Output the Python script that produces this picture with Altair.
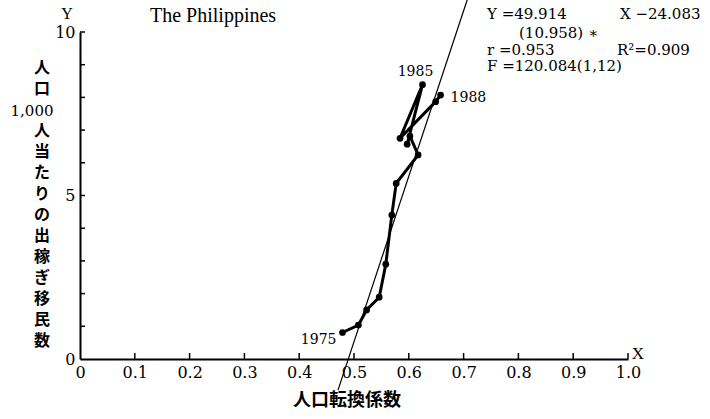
import altair as alt
import pandas as pd

# ---- data ----
years = [1975, 1976, 1977, 1978, 1979, 1980, 1981, 1982, 1983, 1984, 1985, 1986, 1987, 1988]
conv = [0.479, 0.508, 0.523, 0.546, 0.558, 0.569, 0.577, 0.617, 0.602, 0.597, 0.625, 0.584, 0.649, 0.658]
emig = [0.81, 1.04, 1.50, 1.89, 2.90, 4.40, 5.37, 6.24, 6.82, 6.57, 8.39, 6.75, 7.87, 8.07]

# regression line end points (as drawn)
reg_x = [0.4708, 0.7065]
reg_y = [-0.95, 10.98]

x_tick_vals = [0.1, 0.2, 0.3, 0.4, 0.5, 0.6, 0.7, 0.8, 0.9, 1.0]
x_label_vals = [0, 0.1, 0.2, 0.3, 0.4, 0.5, 0.6, 0.7, 0.8, 0.9, 1.0]
y_tick_vals = [1, 2, 3, 4, 5, 6, 7, 8, 9, 10]
y_label_vals = [0, 5, 10]

title_text = "The Philippines"
x_title = "人口転換係数"
y_title_top = ["人", "口"]
y_title_num = "1,000"
y_title_rest = ["人", "当", "た", "り", "の", "出", "稼", "ぎ", "移", "民", "数"]
stats = ["Y =49.914", "X −24.083", "(10.958) ∗", "r =0.953", "R²=0.909", "F =120.084(1,12)"]
label_years = [1975, 1985, 1988]

SERIF = "DejaVu Serif"
TSERIF = "Liberation Serif"
CJK = "Noto Sans CJK JP"

df = pd.DataFrame({"year": years, "x": conv, "y": emig})
reg_df = pd.DataFrame({"x": reg_x, "y": reg_y})

xs = alt.Scale(domain=[0, 1], nice=False, zero=False)
ys = alt.Scale(domain=[0, 10], nice=False, zero=False)

x_axis = alt.Axis(
    values=x_label_vals,
    labelExpr="datum.value == 0 ? '0' : format(datum.value, '.1f')",
    title=None, grid=False, ticks=False,
    domainColor="black", domainWidth=2,
    labelFont=SERIF, labelFontSize=16, labelColor="black",
    labelPadding=5, labelFlush=False,
)
y_axis = alt.Axis(
    values=y_label_vals, title=None, grid=False, ticks=False,
    domainColor="black", domainWidth=2,
    labelFont=SERIF, labelFontSize=16, labelColor="black",
    labelPadding=5, labelFlush=False,
)

base = alt.Chart(df)

reg_line = alt.Chart(reg_df).mark_line(color="black", strokeWidth=1.2, clip=False).encode(
    x=alt.X("x:Q", scale=xs, axis=x_axis),
    y=alt.Y("y:Q", scale=ys, axis=y_axis),
)

path = base.mark_line(color="black", strokeWidth=3).encode(
    x=alt.X("x:Q", scale=xs),
    y=alt.Y("y:Q", scale=ys),
    order="year:O",
)

pts = base.mark_circle(color="black", opacity=1, size=45).encode(
    x=alt.X("x:Q", scale=xs),
    y=alt.Y("y:Q", scale=ys),
)

# inward ticks
xt = alt.Chart(pd.DataFrame({"v": x_tick_vals})).mark_rule(color="black", strokeWidth=1.5).encode(
    x=alt.X("v:Q", scale=xs), y=alt.value(327), y2=alt.value(321)
)
yt = alt.Chart(pd.DataFrame({"v": y_tick_vals})).mark_rule(color="black", strokeWidth=1.5).encode(
    y=alt.Y("v:Q", scale=ys), x=alt.value(0), x2=alt.value(5)
)

def year_label(yr, dx, dy, align):
    return base.transform_filter(alt.datum.year == yr).mark_text(
        font=SERIF, fontSize=14, color="black", dx=dx, dy=dy, align=align, baseline="middle"
    ).encode(x=alt.X("x:Q", scale=xs), y=alt.Y("y:Q", scale=ys), text="year:N")

labels = [
    year_label(label_years[0], -6, 7, "right"),
    year_label(label_years[1], -7, -13, "center"),
    year_label(label_years[2], 10, 3, "left"),
]

def txt(s, x, y, font, size, align="left", baseline="middle", weight="normal", **kw):
    return alt.Chart(pd.DataFrame({"t": [s]})).mark_text(
        font=font, fontSize=size, align=align, baseline=baseline, color="black",
        fontWeight=weight, **kw
    ).encode(text="t:N", x=alt.value(x), y=alt.value(y))

texts = [
    txt(title_text, 70, -10, TSERIF, 20, baseline="alphabetic"),
    txt("Y", -13, -18, TSERIF, 16, align="center"),
    txt("X", 558, 322, TSERIF, 17, align="center"),
    txt(x_title, 267, 369, CJK, 18, align="center", weight="bold"),
    txt("\n".join(y_title_top), -38, 36, CJK, 16, align="center", weight="bold",
        lineBreak="\n", lineHeight=21),
    txt(y_title_num, -48, 79, SERIF, 15, align="center"),
    txt("\n".join(y_title_rest), -38, 99, CJK, 16, align="center", weight="bold",
        lineBreak="\n", lineHeight=21),
    txt(stats[0], 407, -18, SERIF, 15),
    txt(stats[1], 540, -18, SERIF, 15),
    txt(stats[2], 439, 1, SERIF, 15),
    txt(stats[3], 407, 18, SERIF, 15),
    txt(stats[4], 537, 18, SERIF, 15),
    txt(stats[5], 407, 34, SERIF, 15),
]

chart = alt.layer(reg_line, path, pts, xt, yt, *labels, *texts).properties(
    width=548, height=327,
    autosize=alt.AutoSizeParams(type="none"),
    padding={"left": 80, "top": 32, "right": 82, "bottom": 60},
    background="white",
).configure_view(stroke=None)

chart.save("out.html", embed_options={"renderer": "svg", "actions": False})
